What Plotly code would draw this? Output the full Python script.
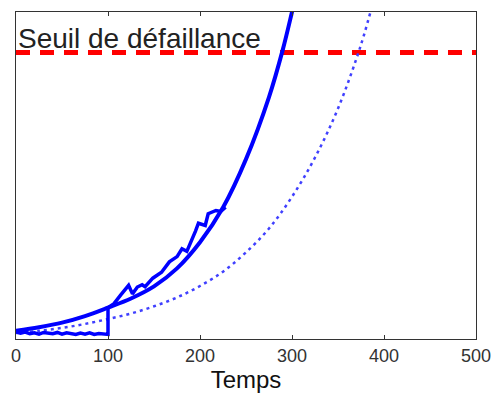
import plotly.graph_objects as go

# Threshold
seuil_y = 87.6
seuil_label = "Seuil de défaillance"

# Smooth fitted (solid) curve
fit_x = [0, 25, 50, 75, 100, 125, 150, 175, 200, 225, 250, 275, 290, 300, 305]
fit_y = [2.5, 3.6, 5.0, 7.0, 9.6, 12.4, 16.1, 21.6, 29.6, 40.2, 55.0, 74.0, 88.5, 100.0, 106.0]

# Initial prediction (dotted) curve
pred_x = [0, 25, 50, 75, 100, 125, 150, 175, 200, 225, 250, 275, 300, 325, 350, 375, 390]
pred_y = [1.8, 2.5, 3.4, 4.6, 6.1, 7.8, 10.0, 12.7, 16.2, 20.6, 26.5, 33.8, 43.5, 55.5, 70.5, 90.0, 105.0]

# Observed noisy trajectory
obs_x = [0, 5, 10, 15, 20, 25, 30, 35, 40, 45, 50, 55, 60, 65, 70, 75, 80, 85, 90, 95, 100,
         100, 106.5, 113.9, 122.4, 126.6, 131.9, 137.1, 140.3, 148.7, 158.2, 166.7, 175.1,
         180.4, 185.7, 195.1, 198.3, 205.7, 208.9, 217.3, 222.6, 227.8]
obs_y = [2.2, 1.8, 2.1, 1.6, 1.9, 1.5, 2.0, 1.7, 1.6, 2.0, 1.5, 1.9, 1.6, 1.4, 1.8, 1.5, 1.9, 1.4, 1.7, 1.5, 1.4,
         9.6, 10.8, 13.5, 16.4, 13.8, 15.9, 16.6, 16.0, 18.6, 20.4, 23.6, 25.2,
         27.6, 26.8, 33.0, 35.4, 34.7, 38.3, 39.3, 39.0, 40.3]

x_ticks = [0, 100, 200, 300, 400, 500]

fig = go.Figure()
fig.add_trace(go.Scatter(x=[0, 500], y=[seuil_y, seuil_y], mode="lines",
                         line=dict(color="#ff0000", width=5, dash="14px,10px"),
                         hoverinfo="skip"))
fig.add_trace(go.Scatter(x=pred_x, y=pred_y, mode="lines",
                         line=dict(color="#4040ff", width=2.5, dash="3px,4px", shape="spline"),
                         hoverinfo="skip"))
fig.add_trace(go.Scatter(x=obs_x, y=obs_y, mode="lines",
                         line=dict(color="#0000ff", width=3.5),
                         hoverinfo="skip"))
fig.add_trace(go.Scatter(x=fit_x, y=fit_y, mode="lines",
                         line=dict(color="#0000ff", width=4, shape="spline"),
                         hoverinfo="skip"))

fig.add_annotation(x=0, y=seuil_y, xref="x", yref="y", text=seuil_label,
                   showarrow=False, xanchor="left", yanchor="bottom", xshift=0, yshift=-3,
                   font=dict(size=28, color="#222222", family="Liberation Sans, Arial"))

fig.update_layout(
    width=502, height=397,
    margin=dict(l=12, r=16, t=11, b=56),
    paper_bgcolor="white", plot_bgcolor="white",
    showlegend=False,
    font=dict(family="Liberation Sans, Arial", color="#333333"),
    xaxis=dict(range=[0, 500], tickvals=x_ticks, ticktext=[str(v) for v in x_ticks],
               ticks="inside", ticklen=4, tickwidth=1, tickcolor="#333333",
               showline=True, linecolor="#333333", linewidth=1.2, mirror="ticks",
               showgrid=False, zeroline=False,
               tickfont=dict(size=18, color="#333333"),
               title=dict(text="Temps", font=dict(size=24, color="#111111"), standoff=3)),
    yaxis=dict(range=[0, 100], showticklabels=False, ticks="",
               showline=True, linecolor="#333333", linewidth=1.2, mirror=True,
               showgrid=False, zeroline=False),
)

fig.write_html("out.html")
